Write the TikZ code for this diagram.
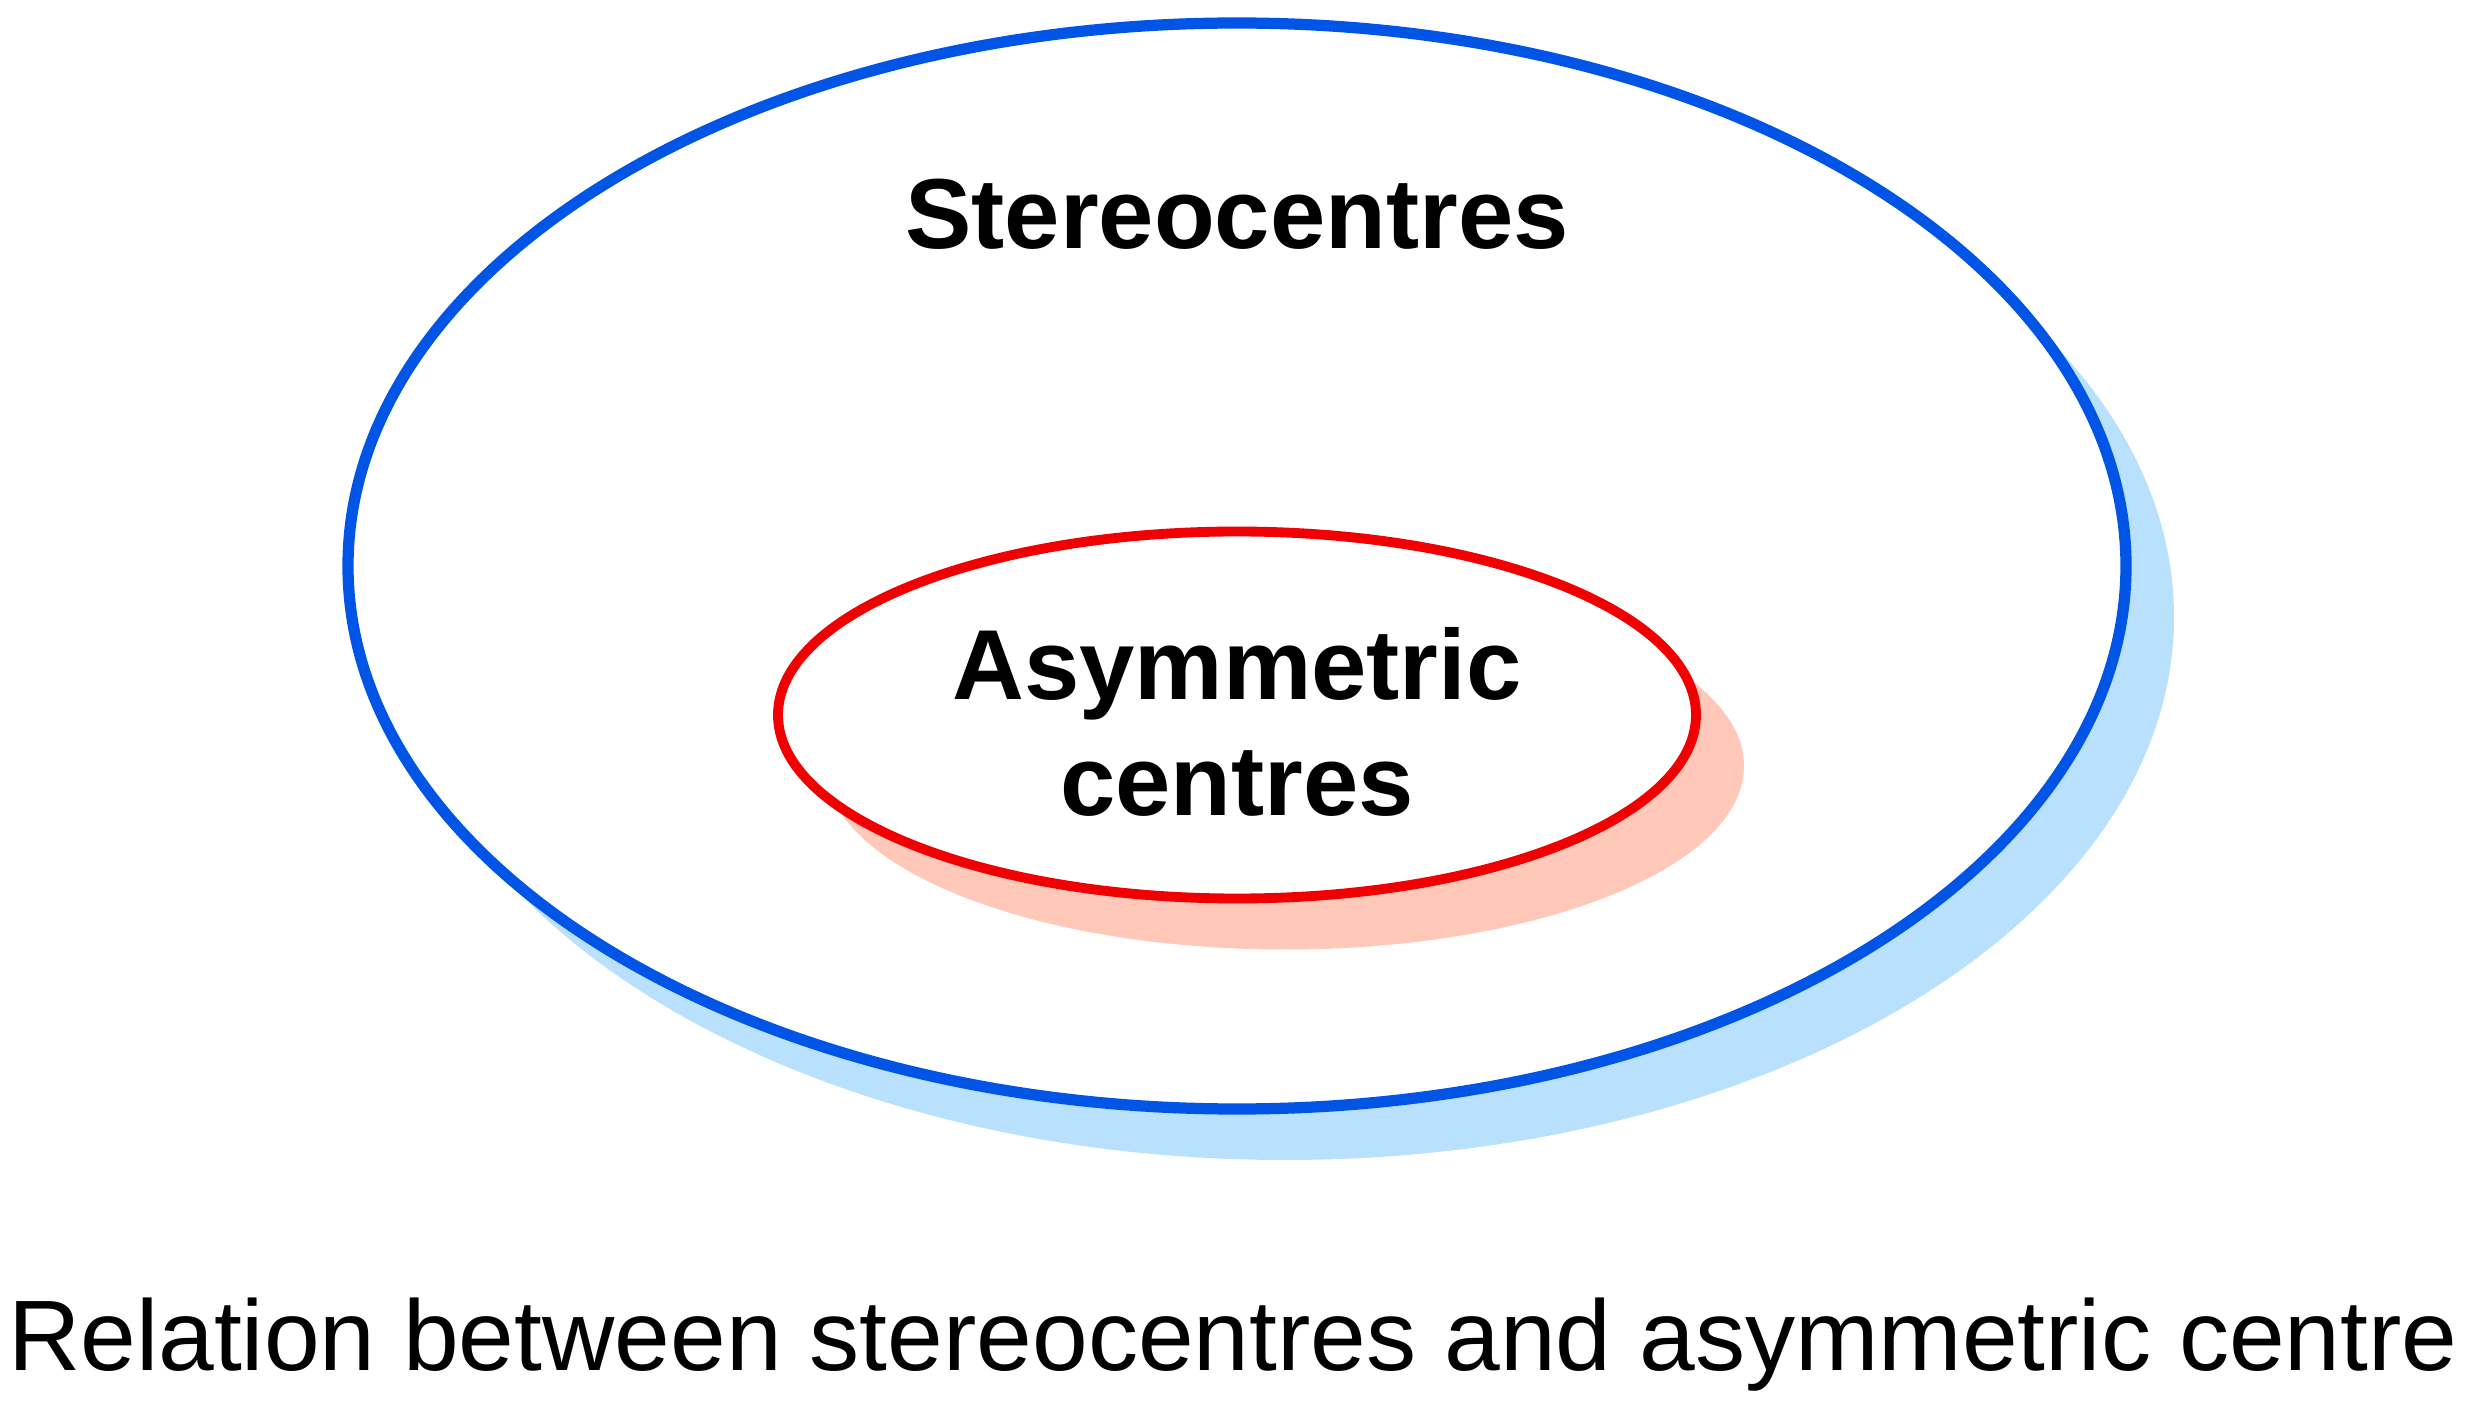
\documentclass[tikz,border=0pt]{standalone}
\usepackage{fontspec}
\setmainfont{Liberation Sans}
\usepackage{tikz}

\definecolor{StereoBlue}{RGB}{0,85,230}
\definecolor{StereoShade}{RGB}{185,224,252}
\definecolor{AsymRed}{RGB}{240,0,0}
\definecolor{AsymShade}{RGB}{255,200,185}

\begin{document}
\begin{tikzpicture}
\useasboundingbox (0,0) rectangle (24.81,14.22);
%
\fill[StereoShade] (12.85,8.05) ellipse [x radius=8.89, y radius=5.43];
\fill[white, draw=StereoBlue, line width=3.2pt] (12.37,8.56) ellipse [x radius=8.89, y radius=5.43];
%
\fill[AsymShade] (12.85,6.56) ellipse [x radius=4.59, y radius=1.835];
\fill[white, draw=AsymRed, line width=2.8pt] (12.37,7.07) ellipse [x radius=4.59, y radius=1.835];
%
\node[font=\fontsize{28.3}{33}\selectfont\bfseries] (stereo) at (12.37,12.08) {Stereocentres};
\node[font=\fontsize{28.3}{33}\selectfont\bfseries, align=center] (asym) at (12.37,7.0) {Asymmetric\\centres};
%
\node[font=\fontsize{28.5}{33}\selectfont] (caption) at (12.33,0.77) {Relation between stereocentres and asymmetric centre};
\end{tikzpicture}
\end{document}
